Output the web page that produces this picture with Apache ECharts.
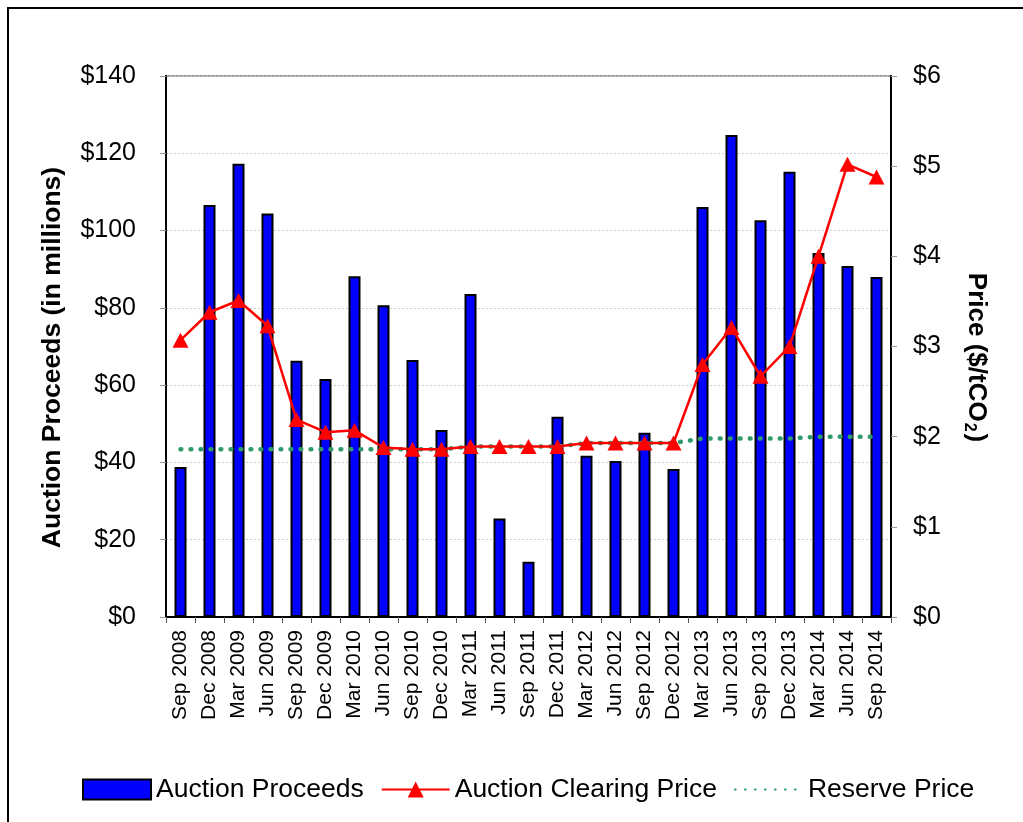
<!DOCTYPE html>
<html>
<head>
<meta charset="utf-8">
<script src="https://cdn.jsdelivr.net/npm/echarts@6/dist/echarts.min.js"></script>
<style>
html, body { margin: 0; padding: 0; background: #fff; overflow: hidden; }
#frame { position: absolute; left: 7px; top: 7px; width: 1100px; height: 900px; border: 2px solid #000; }
#chart { position: absolute; left: 0; top: 0; width: 1023px; height: 822px; }
</style>
</head>
<body>
<div id="frame"></div>
<div id="chart"></div>
<script>
const auctions = ['Sep 2008', 'Dec 2008', 'Mar 2009', 'Jun 2009', 'Sep 2009', 'Dec 2009',
  'Mar 2010', 'Jun 2010', 'Sep 2010', 'Dec 2010', 'Mar 2011', 'Jun 2011', 'Sep 2011',
  'Dec 2011', 'Mar 2012', 'Jun 2012', 'Sep 2012', 'Dec 2012', 'Mar 2013', 'Jun 2013',
  'Sep 2013', 'Dec 2013', 'Mar 2014', 'Jun 2014', 'Sep 2014']

// millions of dollars
const proceeds = [38.8, 106.6, 117.3, 104.4, 66.3, 61.6, 88.2, 80.7, 66.5, 48.4, 83.6, 25.5,
  14.3, 51.8, 41.7, 40.4, 47.7, 38.3, 106.1, 124.7, 102.7, 115.2, 94.2, 90.8, 88.0]

// $/tCO2
const clearingPrice = [3.07, 3.38, 3.51, 3.23, 2.19, 2.05, 2.07, 1.88, 1.86, 1.86, 1.89, 1.89,
  1.89, 1.89, 1.93, 1.93, 1.93, 1.93, 2.80, 3.21, 2.67, 3.00, 4.00, 5.02, 4.88]

const reservePrice = [1.86, 1.86, 1.86, 1.86, 1.86, 1.86, 1.86, 1.86, 1.86, 1.86, 1.89, 1.89,
  1.89, 1.89, 1.93, 1.93, 1.93, 1.93, 1.98, 1.98, 1.98, 1.98, 2.00, 2.00, 2.00]

const font = "'Liberation Sans', Arial, sans-serif"

const chart = echarts.init(document.getElementById('chart'))

const option = {
  animation: false,
  textStyle: { fontFamily: font, color: '#000' },
  grid: {
    left: 166,
    right: 132,
    top: 76,
    bottom: 205,
    show: true,
    borderColor: '#a0a0a0',
    borderWidth: 2,
    backgroundColor: '#fff'
  },
  legend: {
    left: 77,
    top: 771,
    itemWidth: 68,
    itemHeight: 20,
    itemGap: 17,
    textStyle: { fontSize: 26.5, fontFamily: font, color: '#000' },
    data: [
      { name: 'Auction Proceeds', icon: 'rect' },
      'Auction Clearing Price',
      { name: 'Reserve Price', itemStyle: { opacity: 0 } }
    ]
  },
  xAxis: {
    type: 'category',
    data: auctions,
    axisLine: { lineStyle: { color: '#000', width: 2 } },
    axisTick: { show: true, length: 6, lineStyle: { color: '#555' } },
    axisLabel: { rotate: 90, fontSize: 21, margin: 13, color: '#000', fontFamily: font }
  },
  yAxis: [
    {
      type: 'value',
      min: 0,
      max: 140,
      interval: 20,
      name: 'Auction Proceeds (in millions)',
      nameLocation: 'middle',
      nameGap: 100,
      nameTextStyle: { fontSize: 26.5, fontWeight: 'bold', color: '#000', fontFamily: font, padding: [0, 22, 0, 0] },
      axisLine: { show: true, lineStyle: { color: '#000', width: 2 } },
      axisTick: { show: true, length: 6, lineStyle: { color: '#999' } },
      axisLabel: { formatter: '${value}', fontSize: 25, margin: 30, color: '#000', fontFamily: font },
      splitLine: { lineStyle: { color: '#cccccc', type: [2, 2] } }
    },
    {
      type: 'value',
      min: 0,
      max: 6,
      interval: 1,
      position: 'right',
      name: '{a|Price ($/tCO}{s|2}{a|)}',
      nameLocation: 'middle',
      nameGap: 70,
      nameRotate: -90,
      nameTextStyle: {
        padding: [0, 0, 0, 22],
        rich: {
          a: { fontSize: 26, fontWeight: 'bold', color: '#000', fontFamily: font, lineHeight: 30 },
          s: { fontSize: 16, fontWeight: 'bold', color: '#000', fontFamily: font, lineHeight: 30, verticalAlign: 'bottom', padding: [10, 2, 0, 1] }
        }
      },
      axisLine: { show: true, lineStyle: { color: '#000', width: 2 } },
      axisTick: { show: true, length: 6, lineStyle: { color: '#999' } },
      axisLabel: { formatter: '${value}', fontSize: 25, margin: 22, color: '#000', fontFamily: font },
      splitLine: { show: false }
    }
  ],
  series: [
    {
      name: 'Auction Proceeds',
      type: 'bar',
      data: proceeds,
      barWidth: 12,
      itemStyle: { color: '#0000ff', borderColor: '#000', borderWidth: 2 }
    },
    {
      name: 'Reserve Price',
      type: 'line',
      yAxisIndex: 1,
      data: reservePrice,
      symbol: 'none',
      z: 3,
      itemStyle: { color: '#2f9b6b' },
      lineStyle: { color: '#2f9b6b', width: 4.5, type: [0.8, 9.2], cap: 'round' }
    },
    {
      name: 'Auction Clearing Price',
      type: 'line',
      yAxisIndex: 1,
      data: clearingPrice,
      symbol: 'triangle',
      symbolSize: [16, 15],
      z: 4,
      lineStyle: { color: '#ff0000', width: 2.5 },
      itemStyle: { color: '#ff0000' }
    }
  ]
}

chart.setOption(option)
</script>
</body>
</html>
